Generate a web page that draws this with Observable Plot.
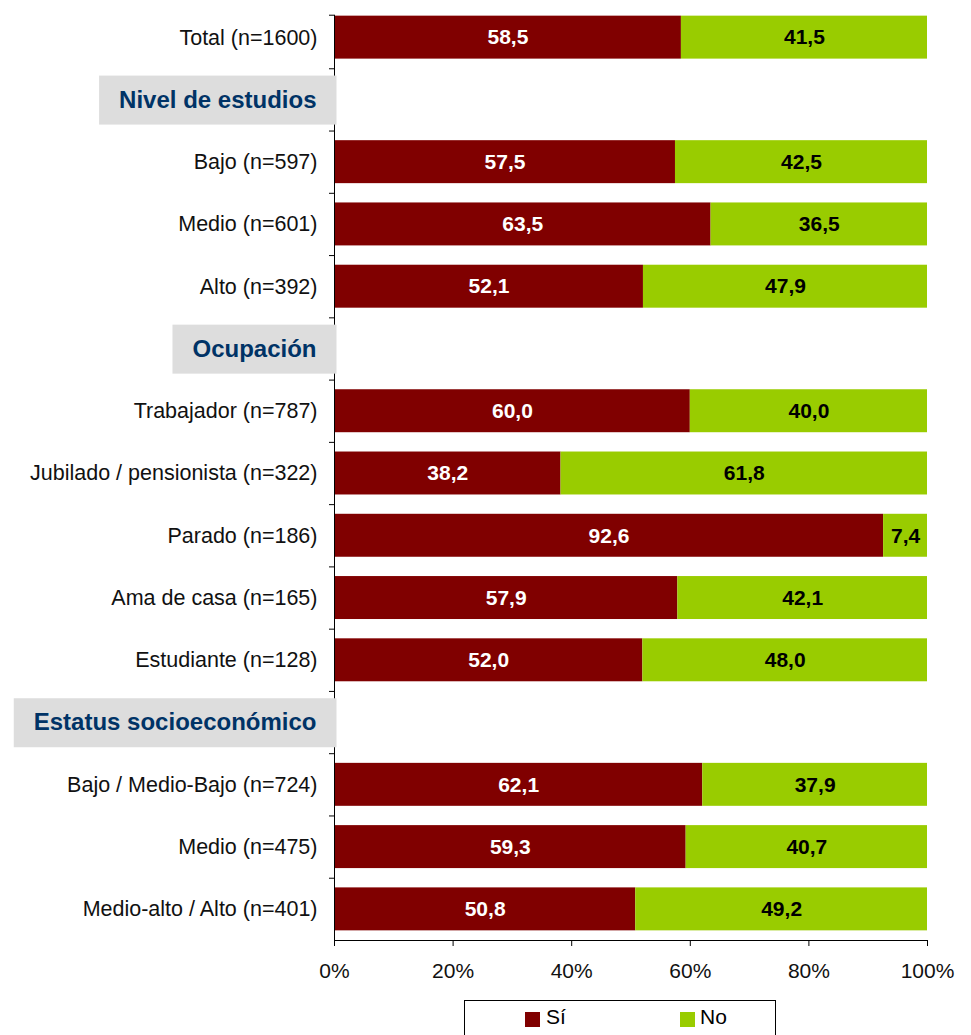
<!DOCTYPE html>
<html><head><meta charset="utf-8">
<script src="https://cdn.jsdelivr.net/npm/d3@7"></script>
<script src="https://cdn.jsdelivr.net/npm/@observablehq/plot@0.6"></script>
<style>
body{margin:0;background:#fff;font-family:"Liberation Sans",Arial,sans-serif;}
svg{display:block}
#legend{position:relative;margin-left:464px;width:312px;height:40px;border:1px solid #000;box-sizing:border-box;}
.sw{position:absolute;top:11px;width:15px;height:15px}
.lt{position:absolute;top:4px;font-size:21px;line-height:24px;color:#000}
</style></head><body>
<div id="chart"></div>
<div id="legend"></div>
<script>
const labels = ["Total (n=1600)", "Nivel de estudios", "Bajo (n=597)", "Medio (n=601)", "Alto (n=392)",
  "Ocupación", "Trabajador (n=787)", "Jubilado / pensionista (n=322)", "Parado (n=186)", "Ama de casa (n=165)",
  "Estudiante (n=128)", "Estatus socioeconómico", "Bajo / Medio-Bajo (n=724)", "Medio (n=475)", "Medio-alto / Alto (n=401)"];
const headers = ["Nivel de estudios", "Ocupación", "Estatus socioeconómico"];
const si = [58.5, null, 57.5, 63.5, 52.1, null, 60.0, 38.2, 92.6, 57.9, 52.0, null, 62.1, 59.3, 50.8];
const no = [41.5, null, 42.5, 36.5, 47.9, null, 40.0, 61.8, 7.4, 42.1, 48.0, null, 37.9, 40.7, 49.2];
const seriesNames = ["Sí", "No"];
const seriesColors = ["#800000", "#99CC00"];
const xTicks = [0, 20, 40, 60, 80, 100];

const font = '"Liberation Sans", Arial, sans-serif';
const rows = labels.map((label, i) => ({label, i, si: si[i], no: no[i], header: headers.includes(label)}));
const bars = rows.filter(r => !r.header);
const segSi = bars.map(r => ({i: r.i, key: "Sí", x1: 0, x2: r.si, v: r.si}));
const segNo = bars.map(r => ({i: r.i, key: "No", x1: r.si, x2: r.si + r.no, v: r.no}));
const fmt = v => v.toFixed(1).replace(".", ",");
const n = labels.length;
const axisTop = 0.14;
const boundaries = [axisTop, ...d3.range(1, n)];

const chart = Plot.plot({
  width: 971, height: 1000,
  marginLeft: 334, marginRight: 44, marginTop: 6, marginBottom: 60,
  style: {fontFamily: font, background: "white", color: "#000", overflow: "visible"},
  x: {domain: [0, 100]},
  y: {domain: [0, n], reverse: true},
  color: {domain: seriesNames, range: seriesColors},
  marks: [
    Plot.rect([...segSi, ...segNo], {x1: "x1", x2: "x2", y1: d => d.i + 0.155, y2: d => d.i + 0.845, fill: "key"}),
    Plot.text(segSi, {x: d => (d.x1 + d.x2) / 2, y: d => d.i + 0.5, text: d => fmt(d.v), fill: "white", fontWeight: "bold", fontSize: 21}),
    Plot.text(segNo, {x: d => (d.x1 + d.x2) / 2, y: d => d.i + 0.5, text: d => fmt(d.v), fill: "black", fontWeight: "bold", fontSize: 21}),
    Plot.axisY({anchor: "left", ticks: bars.map(r => r.i + 0.5), tickFormat: v => labels[Math.floor(v)], tickSize: 0, tickPadding: 17, fontSize: 21.5, label: null, fill: "#111"}),
    Plot.axisY({anchor: "left", ticks: boundaries, tickFormat: () => "", tickSize: 5, label: null, stroke: "#000", strokeOpacity: 1}),
    Plot.ruleX([0], {y1: axisTop, y2: n, stroke: "#000"}),
    Plot.ruleY([n], {stroke: "#000"}),
    Plot.axisX({anchor: "bottom", ticks: xTicks, tickSize: 6, tickPadding: 17, tickFormat: d => d + "%", fontSize: 21, label: null, stroke: "#000", strokeOpacity: 1, fill: "#111"}),
    Plot.text(rows.filter(r => r.header), {x: d => 0, y: d => d.i + 0.5, text: "label", textAnchor: "end", dx: -18, fill: "#003366", fontWeight: "bold", fontSize: 24, className: "hdr"})
  ]
});
document.getElementById("chart").append(chart);

// grey boxes behind section headers
const g = chart.querySelector("g.hdr") || chart.querySelector(".hdr");
if (g) {
  const texts = Array.from(g.querySelectorAll("text"));
  texts.forEach(t => {
    const b = t.getBBox();
    const ctm = t.transform && t.transform.baseVal && t.transform.baseVal.consolidate();
    let tx = 0, ty = 0;
    if (ctm) { tx = ctm.matrix.e; ty = ctm.matrix.f; }
    const cy = ty + b.y + b.height / 2 + 1;
    const r = document.createElementNS("http://www.w3.org/2000/svg", "rect");
    r.setAttribute("x", tx + b.x - 20);
    r.setAttribute("width", b.width + 40);
    r.setAttribute("y", cy - 24.5);
    r.setAttribute("height", 49);
    r.setAttribute("fill", "#DDDDDD");
    g.insertBefore(r, g.firstChild);
  });
}

// legend
const legend = document.getElementById("legend");
const legendPos = [{sw: 60, tx: 81}, {sw: 215, tx: 235}];
seriesNames.forEach((name, k) => {
  const sw = document.createElement("div");
  sw.className = "sw"; sw.style.left = legendPos[k].sw + "px"; sw.style.background = seriesColors[k];
  const tx = document.createElement("div");
  tx.className = "lt"; tx.style.left = legendPos[k].tx + "px"; tx.textContent = name;
  legend.append(sw, tx);
});
</script>
</body></html>
